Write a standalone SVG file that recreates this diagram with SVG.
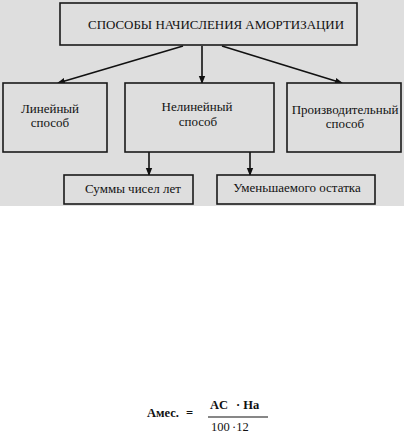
<svg xmlns="http://www.w3.org/2000/svg" width="404" height="433" viewBox="0 0 404 433">
<defs>
<marker id="ah" markerWidth="8" markerHeight="8" refX="7" refY="4" orient="auto" markerUnits="userSpaceOnUse">
<path d="M0,0.8 L8,4 L0,7.2 Z" fill="#111"/>
</marker>
<style>
.box{fill:#dedede;stroke:#1a1a1a;stroke-width:1.6}
.t{font-family:'Liberation Serif','DejaVu Serif','Times New Roman',serif;font-size:13px;fill:#111;text-anchor:middle}
.c{stroke:#111;stroke-width:1.6;fill:none;marker-end:url(#ah)}
.f{font-family:'Liberation Serif','DejaVu Serif','Times New Roman',serif;font-size:12.5px;fill:#111;font-weight:bold}
.fn{font-weight:normal}
</style>
</defs>
<rect x="0" y="0" width="404" height="206" fill="#dedede"/>
<g id="connectors">
<line class="c" x1="183" y1="46" x2="58" y2="83"/>
<line class="c" x1="202" y1="46" x2="202" y2="83"/>
<line class="c" x1="222" y1="46" x2="342" y2="83"/>
<line class="c" x1="149" y1="152" x2="149" y2="175"/>
<line class="c" x1="250" y1="152" x2="250" y2="175"/>
</g>
<g id="root">
<rect class="box" x="60" y="3" width="297" height="42"/>
<text class="t" x="216" y="29" font-family="Liberation Serif, DejaVu Serif, serif" font-size="12.5" textLength="256" lengthAdjust="spacingAndGlyphs">СПОСОБЫ НАЧИСЛЕНИЯ АМОРТИЗАЦИИ</text>
</g>
<g id="linear">
<rect class="box" x="3" y="83" width="104" height="69"/>
<text class="t" x="50" y="113" font-family="Liberation Serif, DejaVu Serif, serif">Линейный</text>
<text class="t" x="50" y="127" font-family="Liberation Serif, DejaVu Serif, serif">способ</text>
</g>
<g id="nonlinear">
<rect class="box" x="125" y="83" width="149" height="69"/>
<text class="t" x="197" y="111" font-family="Liberation Serif, DejaVu Serif, serif">Нелинейный</text>
<text class="t" x="198" y="126" font-family="Liberation Serif, DejaVu Serif, serif">способ</text>
</g>
<g id="production">
<rect class="box" x="287" y="83" width="114" height="69"/>
<text class="t" x="345" y="114" font-family="Liberation Serif, DejaVu Serif, serif">Производительный</text>
<text class="t" x="345" y="128" font-family="Liberation Serif, DejaVu Serif, serif">способ</text>
</g>
<g id="sum-years">
<rect class="box" x="64" y="175" width="129" height="29"/>
<text class="t" x="133" y="193" font-family="Liberation Serif, DejaVu Serif, serif">Суммы чисел лет</text>
</g>
<g id="declining">
<rect class="box" x="217" y="175" width="158" height="29"/>
<text class="t" x="297" y="192" font-family="Liberation Serif, DejaVu Serif, serif">Уменьшаемого остатка</text>
</g>
<g id="formula" font-family="Liberation Serif, DejaVu Serif, serif">
<text class="f" x="147" y="417">Амес.</text>
<text class="f" x="186" y="417">=</text>
<text class="f" x="210" y="409">AC</text>
<text class="f" x="236" y="409">· На</text>
<line x1="208" y1="417" x2="268" y2="417" stroke="#111" stroke-width="1.2"/>
<text class="f fn" x="211" y="431">100</text>
<text class="f fn" x="232" y="431">·12</text>
</g>
</svg>
